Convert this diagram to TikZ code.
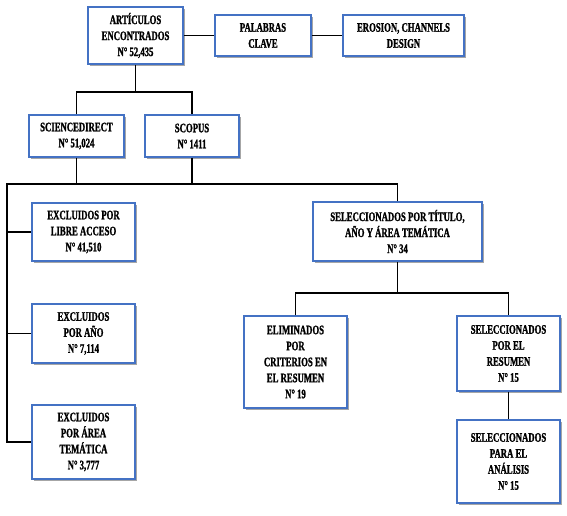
\documentclass[tikz,border=0pt]{standalone}
\usepackage{fontspec}
\setmainfont{Liberation Serif}[FakeStretch=0.67, BoldFeatures={FakeBold=1.2}]
\usetikzlibrary{shadows}

\definecolor{boxblue}{HTML}{4472C4}

\begin{document}
\begin{tikzpicture}[x=1pt,y=-1pt,
  box/.style={draw=boxblue, line width=1.4pt, fill=white, align=center, inner sep=0pt,
    font=\fontsize{13}{16}\selectfont\bfseries,
    drop shadow={shadow xshift=1.8pt, shadow yshift=-1.8pt, fill=black, opacity=0.35}},
  link/.style={line width=1.6pt}]

\useasboundingbox (0,0) rectangle (567,516);

% Top row
\node[box, minimum width=95pt, minimum height=57pt] (art) at (135.5,35.5) {ARTÍCULOS\\ENCONTRADOS\\N° 52,435};
\node[box, minimum width=96pt, minimum height=41pt] (pal) at (263,35.5) {PALABRAS\\CLAVE};
\node[box, minimum width=121pt, minimum height=41pt] (ero) at (403.5,35.5) {EROSION, CHANNELS\\DESIGN};

% Databases
\node[box, minimum width=95pt, minimum height=42pt] (sci) at (76.5,136) {SCIENCEDIRECT\\N° 51,024};
\node[box, minimum width=94pt, minimum height=42pt] (sco) at (192,136) {SCOPUS\\N° 1411};

% Excluded
\node[box, minimum width=103pt, minimum height=58pt] (exa) at (83.5,232) {EXCLUIDOS POR\\LIBRE ACCESO\\N° 41,510};
\node[box, minimum width=103pt, minimum height=59pt] (exb) at (83.5,333.5) {EXCLUIDOS\\POR AÑO\\N° 7,114};
\node[box, minimum width=103pt, minimum height=74pt] (exc) at (83.5,442) {EXCLUIDOS\\POR ÁREA\\TEMÁTICA\\N° 3,777};

% Selected
\node[box, minimum width=169pt, minimum height=59pt] (sel) at (397.5,231.5) {SELECCIONADOS POR TÍTULO,\\AÑO Y ÁREA TEMÁTICA\\N° 34};
\node[box, minimum width=103pt, minimum height=92pt] (eli) at (295.5,362) {ELIMINADOS\\POR\\CRITERIOS EN\\EL RESUMEN\\N° 19};
\node[box, minimum width=103pt, minimum height=75pt] (res) at (508.5,353.5) {SELECCIONADOS\\POR EL\\RESUMEN\\N° 15};
\node[box, minimum width=103pt, minimum height=83pt] (ana) at (508.5,461.5) {SELECCIONADOS\\PARA EL\\ANÁLISIS\\N° 15};

% Bus coordinates
\coordinate (busA) at (135.5,92);
\coordinate (busB) at (7,184);
\coordinate (busC) at (397.5,293);

% Keywords
\draw[link] (art) -- (pal);
\draw[link] (pal) -- (ero);

% Found to databases
\draw[link] (art.south) -- (art.south |- busA);
\draw[link] (sci.north) -- (sci.north |- busA) -- (sco.north |- busA) -- (sco.north);

% Databases to screening
\draw[link] (sci.south) -- (sci.south |- busB);
\draw[link] (sco.south) -- (sco.south |- busB);
\draw[link] (sel.north) -- (sel.north |- busB) -- (busB) -- (busB |- exc.west) -- (exc.west);
\draw[link] (busB |- exa.west) -- (exa.west);
\draw[link] (busB |- exb.west) -- (exb.west);

% Abstract screening
\draw[link] (sel.south) -- (busC);
\draw[link] (eli.north) -- (eli.north |- busC) -- (res.north |- busC) -- (res.north);
\draw[link] (res) -- (ana);

\end{tikzpicture}
\end{document}
